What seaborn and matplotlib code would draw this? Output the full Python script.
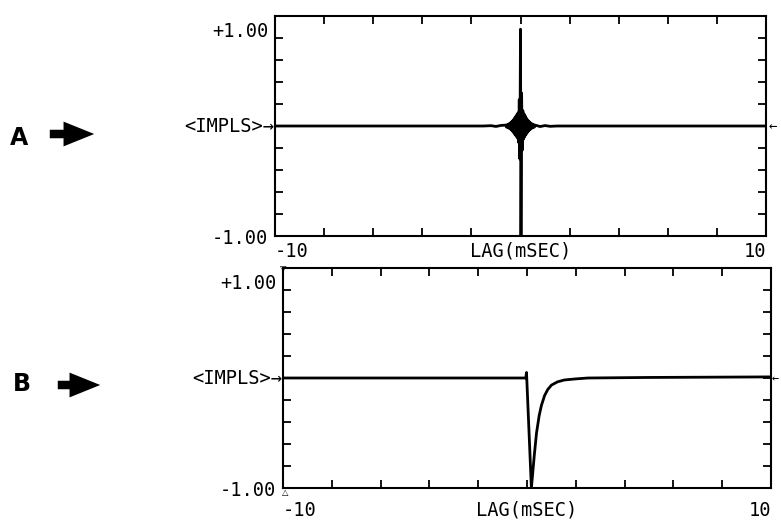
import matplotlib
matplotlib.use("Agg")
import matplotlib.pyplot as plt
import matplotlib.transforms as mtransforms
import seaborn as sns
import pandas as pd
from matplotlib.ticker import MultipleLocator

# ---------------- data ----------------
# Panel A: impulse response (lag in ms, normalised amplitude)
lag_a = [-10.0, -1.5, -1.2, -1.0, -0.8,
         -0.6, -0.575, -0.55, -0.525, -0.5, -0.475, -0.45, -0.425, -0.4,
         -0.375, -0.35, -0.325, -0.3, -0.275, -0.25, -0.225, -0.2, -0.175,
         -0.15, -0.125, -0.1, -0.075, -0.05, -0.025,
         0.0, 0.02,
         0.045, 0.07, 0.095, 0.12, 0.145, 0.17, 0.195, 0.22, 0.245, 0.27,
         0.295, 0.32, 0.345, 0.37, 0.395, 0.42, 0.445, 0.47, 0.495, 0.52,
         0.545, 0.57, 0.595,
         0.8, 1.0, 1.2, 1.5, 10.0]
imp_a = [0.0, 0.0, 0.003, -0.004, 0.005,
         0.008, -0.009, 0.011, -0.013, 0.016, -0.019, 0.023, -0.027, 0.031,
         -0.036, 0.042, -0.048, 0.055, -0.062, 0.07, -0.078, 0.086, -0.094,
         0.102, -0.11, 0.12, -0.15, 0.24, -0.3,
         0.88, -1.0,
         0.3, -0.22, 0.14, -0.12, 0.11, -0.1, 0.09, -0.08, 0.07, -0.062,
         0.055, -0.048, 0.042, -0.036, 0.031, -0.027, 0.023, -0.019, 0.016,
         -0.013, 0.011, -0.009, 0.008,
         -0.005, 0.004, -0.003, 0.0, 0.0]

# Panel B: impulse response
lag_b = [-10.0, -0.05, -0.02, 0.18, 0.3, 0.39, 0.5, 0.59, 0.72, 0.85, 1.0,
         1.25, 1.53, 2.0, 2.5, 5.0, 10.0]
imp_b = [0.0, 0.0, 0.05, -1.0, -0.7, -0.5, -0.34, -0.25, -0.16, -0.105,
         -0.065, -0.035, -0.018, -0.008, 0.0, 0.005, 0.01]

xtick_vals = [-10, 10]
xtick_labels = ["-10", "10"]
ytick_vals = [-1, 1]
ytick_labels = ["-1.00", "+1.00"]
zero_label = "<IMPLS>\u2192"
x_label = "LAG(mSEC)"
panel_names = ["A", "B"]

# ---------------- style ----------------
sns.set_theme(style="white")
plt.rcParams['font.family'] = ['DejaVu Sans Mono', 'DejaVu Sans']
plt.rcParams['axes.edgecolor'] = 'black'
plt.rcParams['axes.linewidth'] = 1.5

FS = 13.5
fig = plt.figure(figsize=(7.81, 5.26), dpi=100)
fig.patch.set_facecolor('white')

ax1 = fig.add_axes([275 / 781, 1 - 236 / 526, 491 / 781, 220 / 526])
ax2 = fig.add_axes([283 / 781, 1 - 488 / 526, 488 / 781, 220 / 526])

df_a = pd.DataFrame({"lag": lag_a, "imp": imp_a})
df_b = pd.DataFrame({"lag": lag_b, "imp": imp_b})

sns.lineplot(data=df_a, x="lag", y="imp", ax=ax1, color="black", lw=2.0,
             estimator=None, sort=False)
sns.lineplot(data=df_b, x="lag", y="imp", ax=ax2, color="black", lw=2.0,
             estimator=None, sort=False)

for ax, pad, lab_y in [(ax1, 4, -0.025), (ax2, 9, -0.055)]:
    ax.set_xlim(-10, 10)
    ax.set_ylim(-1, 1)
    ax.set_facecolor('white')
    for s in ax.spines.values():
        s.set_visible(True)
        s.set_color('black')
        s.set_linewidth(1.5)
    ax.set_xticks(xtick_vals)
    ax.set_xticklabels(xtick_labels)
    ax.set_yticks(ytick_vals)
    ax.set_yticklabels(ytick_labels)
    ax.xaxis.set_minor_locator(MultipleLocator(2))
    ax.yaxis.set_minor_locator(MultipleLocator(0.2))
    ax.tick_params(which='both', direction='in', top=True, right=True,
                   bottom=True, left=True, length=6, width=1.3, color='black')
    ax.tick_params(axis='x', which='major', pad=pad, labelsize=FS, labelcolor='black')
    ax.tick_params(axis='y', which='major', pad=5, labelsize=FS, labelcolor='black')
    xl = ax.get_xticklabels()
    xl[0].set_ha('left')
    xl[1].set_ha('right')
    yl = ax.get_yticklabels()
    yl[1].set_va('top')
    yl[1].set_transform(yl[1].get_transform() +
                        mtransforms.ScaledTranslation(0, -6 / 100, fig.dpi_scale_trans))
    ax.set_xlabel(x_label, fontsize=FS, color='black')
    ax.set_ylabel("")
    ax.xaxis.set_label_coords(0.5, lab_y)
    ax.text(-0.001, 0.5, zero_label, transform=ax.transAxes, ha='right',
            va='center', fontsize=FS, color='black')

ax1.text(1.006, 0.5, "\u2190", transform=ax1.transAxes, ha='left',
         va='center', fontsize=10, color='black')
ax2.text(1.002, 0.5, "\u2190", transform=ax2.transAxes, ha='left',
         va='center', fontsize=8.5, color='black')
ax2.text(0, 1, "\u25BD", transform=ax2.transAxes, ha='center', va='center',
         fontsize=6, color='black', family=['DejaVu Sans'])
ax2.text(0.005, 0, "\u25B3", transform=ax2.transAxes, ha='center', va='top',
         fontsize=6, color='black', family=['DejaVu Sans'])

# panel letters with block arrows
for name, (lx, ly), (ax0, ax1_, ay) in zip(
        panel_names,
        [(0.013, 1 - 138 / 526), (0.017, 1 - 384 / 526)],
        [(47 / 781, 97 / 781, 1 - 134 / 526), (55 / 781, 103 / 781, 1 - 385 / 526)]):
    fig.text(lx, ly, name, ha='left', va='center', fontsize=17,
             fontweight='bold', color='black', family=['DejaVu Sans'])
    fig.add_artist(matplotlib.patches.FancyArrowPatch(
        (ax0, ay), (ax1_, ay), transform=fig.transFigure,
        arrowstyle='simple,head_length=1.3,head_width=1.05,tail_width=0.36',
        mutation_scale=17, color='black', lw=0))

fig.savefig("out.png", dpi=100, facecolor='white')
